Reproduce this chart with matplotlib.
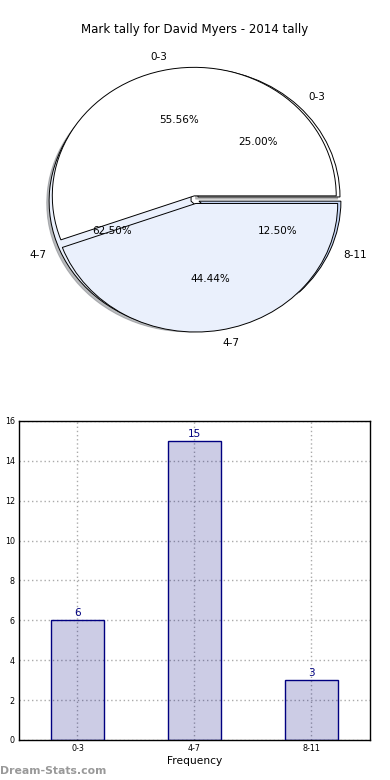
import numpy as np
import matplotlib
matplotlib.use('Agg')
import matplotlib.pyplot as plt

# === data ===
bins = ['0-3', '4-7', '8-11']
tally = [6, 15, 3]

bins_prev = ['0-3', '4-7']
tally_prev = [5, 4]

title = 'Mark tally for David Myers - 2014 tally'

# === figure ===
fig = plt.figure(figsize=(3.9, 7.8), dpi=100)

# --- pie chart (two pies drawn into one axes) ---
ax1 = fig.add_axes([0.045, 0.538, 0.91, 0.412])
wp = dict(edgecolor='black', linewidth=0.7)
tp = dict(fontsize=7.5)

ax1.pie(tally, explode=[0.03] * len(tally), labels=bins,
        colors=['#ffffff', '#eaf0fc', '#c6d6f5'], autopct='%1.2f%%',
        shadow=dict(ox=-0.012, oy=-0.012, shade=0.5), startangle=0,
        wedgeprops=wp, textprops=tp)
ax1.pie(tally_prev, explode=[0.03] * len(tally_prev), labels=bins_prev,
        colors=['#ffffff', '#eaf0fc'], autopct='%1.2f%%',
        shadow=False, startangle=0, wedgeprops=wp, textprops=tp)

ax1.set_aspect('auto')
ax1.set_xlim(-1.25, 1.25)
ax1.set_ylim(-1.25, 1.25)
ax1.axis('off')

fig.text(0.5, 1 - 30 / 780, title, ha='center', va='center', fontsize=8.5)

# --- bar chart ---
ax2 = fig.add_axes([0.0487, 0.0513, 0.9, 0.409])
x = np.arange(len(bins))
ax2.bar(x, tally, width=0.45, color='navy', alpha=0.2, zorder=2)
ax2.bar(x, tally, width=0.45, facecolor='none', edgecolor='navy',
        linewidth=1.0, zorder=3)

for xi, v in zip(x, tally):
    ax2.text(xi, v + 0.12, str(v), ha='center', va='bottom',
             color='navy', fontsize=7.5)

ax2.set_xlim(-0.5, 2.5)
ax2.set_ylim(0, 16)
ax2.set_yticks(range(0, 17, 2))
ax2.set_xticks(x)
ax2.set_xticklabels(bins)
ax2.tick_params(labelsize=5.8, length=0, pad=3)
ax2.grid(True, linestyle=(0, (1, 2)), color='#aaaaaa', linewidth=1.0, zorder=0)
ax2.set_axisbelow(True)
ax2.set_xlabel('Frequency', fontsize=7.7, labelpad=2)
ax2.set_ylabel('Distribution', fontsize=7.7, labelpad=2)
for s in ax2.spines.values():
    s.set_linewidth(1.0)

fig.text(0.0, 1 - 771 / 780, 'Dream-Stats.com', ha='left', va='center',
         fontsize=7.8, color='#999999', fontweight='bold')

plt.savefig('out.png', dpi=100)
